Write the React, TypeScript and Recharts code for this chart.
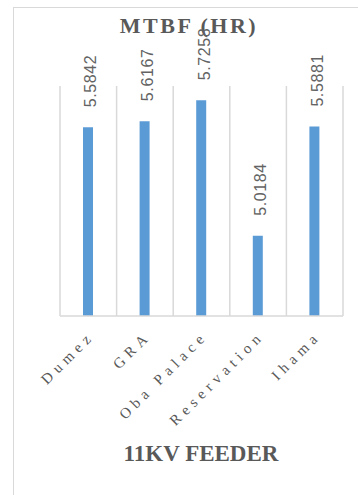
import { BarChart, Bar, XAxis, YAxis, CartesianGrid, LabelList } from "recharts"

const feeders = ["Dumez", "GRA", "Oba Palace", "Reservation", "Ihama"]
const mtbf = [5.5842, 5.6167, 5.7258, 5.0184, 5.5881]

const data = feeders.map((name, i) => ({ name, mtbf: mtbf[i] }))

const GREY = "#595959"
const SERIF = "'Liberation Serif', 'Times New Roman', serif"

const FeederTick = (props: any) => {
  const { x, y, payload } = props
  const tx = x + 7
  const ty = y + 13
  return (
    <text
      x={tx}
      y={ty}
      transform={`rotate(-45, ${tx}, ${ty})`}
      textAnchor="end"
      fill={GREY}
      fontFamily={SERIF}
      fontSize={15}
      letterSpacing={5}
    >
      {payload.value}
    </text>
  )
}

const ValueLabel = (props: any) => {
  const { x, y, width, value } = props
  const cx = x + width / 2 + 3
  const cy = y - 20
  return (
    <text
      x={cx}
      y={cy}
      transform={`rotate(-90, ${cx}, ${cy})`}
      textAnchor="start"
      dominantBaseline="central"
      fill="#636363"
      fontFamily="'Liberation Sans', Arial, sans-serif"
      fontSize={16}
      letterSpacing={0.6}
    >
      {value}
    </text>
  )
}

export default function App() {
  const n = feeders.length
  return (
    <div style={{ position: "absolute", left: 0, top: 0, width: 358, height: 495, background: "#fff", overflow: "hidden" }}>
      <div
        style={{
          position: "absolute",
          left: 13,
          top: 7,
          width: 400,
          height: 600,
          borderTop: "1.5px solid #d9d9d9",
          borderLeft: "1.5px solid #d9d9d9",
        }}
      />
      <div style={{ position: "absolute", left: 0, top: 0 }}>
        <BarChart width={358} height={495} data={data} margin={{ top: 86, right: 15, bottom: 20, left: 60 }}>
          <CartesianGrid
            horizontal={false}
            stroke="#d9d9d9"
            strokeWidth={1.5}
            verticalCoordinatesGenerator={({ offset }: any) =>
              Array.from({ length: n + 1 }, (_, i) => offset.left + (i * offset.width) / n)
            }
          />
          <XAxis
            dataKey="name"
            interval={0}
            height={159}
            axisLine={{ stroke: "#d9d9d9", strokeWidth: 1.5 }}
            tickLine={false}
            tick={<FeederTick />}
          />
          <YAxis hide domain={[4.6, 5.8]} />
          <Bar dataKey="mtbf" fill="#5b9bd5" barSize={10} isAnimationActive={false}>
            <LabelList dataKey="mtbf" content={<ValueLabel />} />
          </Bar>
          <text x={189} y={33} textAnchor="middle" fill={GREY} fontFamily={SERIF} fontWeight="bold" fontSize={22} letterSpacing={2.5}>
            MTBF (HR)
          </text>
          <text x={201} y={461} textAnchor="middle" fill={GREY} fontFamily={SERIF} fontWeight="bold" fontSize={23}>
            11KV FEEDER
          </text>
        </BarChart>
      </div>
    </div>
  )
}
